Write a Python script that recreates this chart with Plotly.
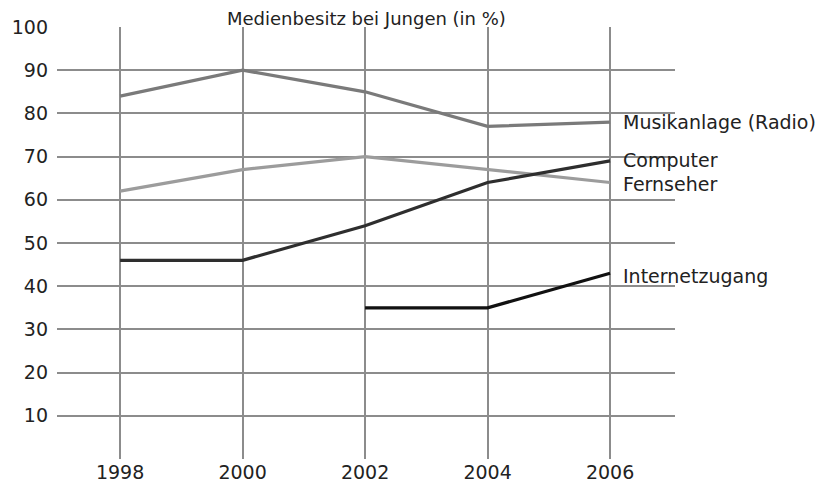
import plotly.graph_objects as go

years = [1998, 2000, 2002, 2004, 2006]
musikanlage = [84, 90, 85, 77, 78]
fernseher = [62, 67, 70, 67, 64]
computer = [46, 46, 54, 64, 69]
internet = [None, None, 35, 35, 43]

FONT = "DejaVu Sans"
TXT = "#222222"
TITLE = "Medienbesitz bei Jungen (in %)"

series = [
    ("Musikanlage (Radio)", musikanlage, "#7a7a7a", 0),
    ("Fernseher", fernseher, "#9c9c9c", -1),
    ("Computer", computer, "#2e2e2e", 1),
    ("Internetzugang", internet, "#111111", -3),
]

# the page has an 8px body margin; figure is sized/offset to compensate
OFF = 8
PLOT_H = 432
PLOT_W = 618
fig = go.Figure()
for name, vals, col, dy in series:
    fig.add_trace(go.Scatter(x=years, y=vals, mode="lines", name=name,
                             line=dict(color=col, width=3.2), connectgaps=False))
    fig.add_annotation(x=years[-1], y=vals[-1], text=name, showarrow=False,
                       xanchor="left", yanchor="middle", xshift=11, yshift=dy,
                       font=dict(size=19, color=TXT, family=FONT))

fig.add_annotation(xref="paper", yref="paper", x=(366 - 57) / PLOT_W, y=1 + 8 / PLOT_H,
                   text=TITLE, showarrow=False, xanchor="center", yanchor="middle",
                   font=dict(size=18, color=TXT, family=FONT))

fig.update_layout(
    width=829 - OFF, height=486 - OFF,
    margin=dict(l=57 - OFF, r=154, t=27 - OFF, b=27),
    plot_bgcolor="white", paper_bgcolor="white",
    showlegend=False,
    font=dict(family=FONT, size=19, color=TXT),
)
fig.update_xaxes(range=[1996.97, 2007.06], tickvals=years, showgrid=True,
                 gridcolor="#8c8c8c", gridwidth=1.6, zeroline=False, showline=False,
                 ticks="", ticklabelstandoff=0, automargin=False,
                 tickfont=dict(size=19, family=FONT, color=TXT))
fig.update_yaxes(range=[0, 100], tickvals=list(range(10, 101, 10)), showgrid=True,
                 gridcolor="#8c8c8c", gridwidth=1.6, zeroline=False, showline=False,
                 ticks="", ticklabelstandoff=8, automargin=False,
                 tickfont=dict(size=19, family=FONT, color=TXT))

fig.write_html("out.html")
